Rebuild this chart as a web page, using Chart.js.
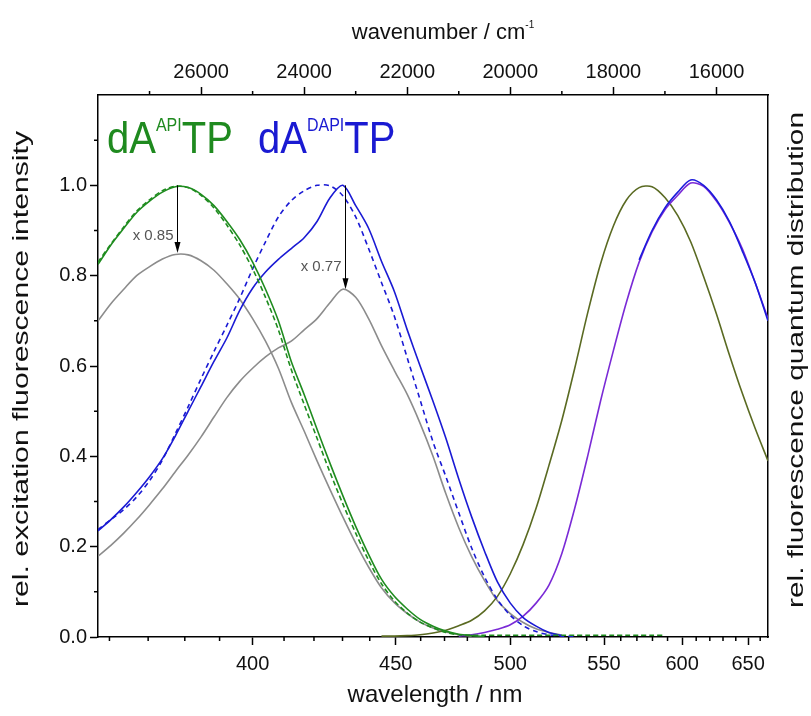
<!DOCTYPE html>
<html>
<head>
<meta charset="utf-8">
<script src="https://cdn.jsdelivr.net/npm/chart.js@4.4.0/dist/chart.umd.min.js"></script>
<style>
  html, body { margin: 0; padding: 0; background: #fff; }
  #wrap { width: 811px; height: 716px; }
</style>
</head>
<body>
<div id="wrap"><canvas id="spectra"></canvas></div>
<script>
// x grid, wavenumber in cm^-1 (the plot is linear in wavenumber)
const wavenumbers = [28000, 27750, 27500, 27250, 27000, 26750, 26500, 26250, 26000, 25750,
    25500, 25250, 25000, 24750, 24500, 24250, 24000, 23750, 23500, 23250,
    23000, 22750, 22500, 22250, 22000, 21750, 21500, 21250, 21000, 20750,
    20500, 20250, 20000, 19750, 19500, 19250, 19000, 18750, 18500, 18250,
    18000, 17750, 17500, 17250, 17000, 16750, 16500, 16250, 16000, 15750,
    15500, 15250, 15000];

// dA(API)TP excitation
const apiExc = [0.825, 0.868, 0.905, 0.94, 0.965, 0.985, 0.997, 0.995, 0.98, 0.955,
    0.92, 0.88, 0.83, 0.77, 0.70, 0.61, 0.537, 0.46, 0.385, 0.313,
    0.245, 0.183, 0.128, 0.09, 0.062, 0.039, 0.024, 0.013, 0.006, 0.003,
    0.001, null, null, null, null, null, null, null, null, null,
    null, null, null, null, null, null, null, null, null, null,
    null, null, null];
const apiExcDashed = [0.83, 0.87, 0.908, 0.943, 0.968, 0.988, 0.998, 0.995, 0.978, 0.95,
    0.912, 0.868, 0.815, 0.752, 0.68, 0.592, 0.515, 0.44, 0.365, 0.295,
    0.23, 0.17, 0.118, 0.08, 0.053, 0.033, 0.02, 0.01, 0.005, 0.004,
    0.004, 0.004, 0.004, 0.004, 0.004, 0.004, 0.004, 0.004, 0.004, 0.004,
    0.004, 0.004, 0.004, 0.004, 0.004, null, null, null, null, null,
    null, null, null];
const apiScaled = [0.70, 0.738, 0.77, 0.80, 0.82, 0.837, 0.847, 0.846, 0.833, 0.812,
    0.782, 0.748, 0.705, 0.655, 0.595, 0.52, 0.456, 0.39, 0.327, 0.266,
    0.208, 0.155, 0.109, 0.076, 0.052, 0.033, 0.02, 0.011, 0.005, 0.002,
    null, null, null, null, null, null, null, null, null, null,
    null, null, null, null, null, null, null, null, null, null,
    null, null, null];

// dA(DAPI)TP excitation
const dapiExc = [0.235, 0.26, 0.288, 0.32, 0.355, 0.395, 0.445, 0.5, 0.555, 0.61,
    0.662, 0.723, 0.772, 0.808, 0.836, 0.86, 0.884, 0.92, 0.972, 1.0,
    0.955, 0.905, 0.832, 0.765, 0.68, 0.60, 0.522, 0.44, 0.35, 0.266,
    0.19, 0.122, 0.075, 0.043, 0.024, 0.01, 0.003, null, null, null,
    null, null, null, null, null, null, null, null, null, null,
    null, null, null];
const dapiExcDashed = [0.238, 0.26, 0.282, 0.31, 0.346, 0.392, 0.45, 0.51, 0.572, 0.632,
    0.69, 0.75, 0.815, 0.875, 0.93, 0.966, 0.988, 1.0, 0.999, 0.977,
    0.93, 0.86, 0.785, 0.71, 0.618, 0.525, 0.432, 0.355, 0.275, 0.197,
    0.133, 0.083, 0.048, 0.025, 0.012, 0.005, 0.002, 0.001, null, null,
    null, null, null, null, null, null, null, null, null, null,
    null, null, null];
const dapiScaled = [0.179, 0.203, 0.23, 0.26, 0.293, 0.328, 0.366, 0.403, 0.443, 0.487,
    0.53, 0.566, 0.595, 0.62, 0.64, 0.655, 0.68, 0.705, 0.74, 0.77,
    0.752, 0.705, 0.645, 0.59, 0.537, 0.473, 0.40, 0.317, 0.242, 0.178,
    0.125, 0.08, 0.052, 0.032, 0.018, 0.01, 0.004, null, null, null,
    null, null, null, null, null, null, null, null, null, null,
    null, null, null];

// fluorescence (right axis)
const apiEm = [null, null, null, null, null, null, null, null, null, null,
    null, null, null, null, null, null, null, null, null, null,
    null, null, 0.002, 0.002, 0.003, 0.005, 0.009, 0.015, 0.025, 0.037,
    0.058, 0.09, 0.14, 0.205, 0.285, 0.38, 0.48, 0.595, 0.717, 0.826,
    0.91, 0.967, 0.995, 0.997, 0.973, 0.933, 0.875, 0.798, 0.715, 0.625,
    0.54, 0.462, 0.39];
const refEm = [null, null, null, null, null, null, null, null, null, null,
    null, null, null, null, null, null, null, null, null, null,
    null, null, null, null, null, null, null, null, 0.002, 0.005,
    0.01, 0.017, 0.027, 0.046, 0.075, 0.115, 0.185, 0.285, 0.40, 0.522,
    0.634, 0.74, 0.83, 0.897, 0.946, 0.978, 1.005, 0.998, 0.965, 0.918,
    0.86, 0.785, 0.705];
const dapiEm = [null, null, null, null, null, null, null, null, null, null,
    null, null, null, null, null, null, null, null, null, null,
    null, null, null, null, null, null, null, null, null, null,
    null, null, null, null, null, null, null, null, null, null,
    null, null, 0.835, 0.9, 0.95, 0.985, 1.012, 1.0, 0.968, 0.92,
    0.855, 0.785, 0.7];

// axis ticks
const wavelengthTicks = [400, 450, 500, 550, 600, 650];
const wavelengthMinor = [360, 370, 380, 390, 410, 420, 430, 440, 460, 470, 480, 490,
    510, 520, 530, 540, 560, 570, 580, 590, 610, 620, 630, 640, 660];
const wavenumberTicks = [16000, 18000, 20000, 22000, 24000, 26000];
const wavenumberMinor = [17000, 19000, 21000, 23000, 25000, 27000];
const intensityTicks = [0, 0.2, 0.4, 0.6, 0.8, 1.0];
const intensityMinor = [0.1, 0.3, 0.5, 0.7, 0.9, 1.1];

// the two scaling arrows
const arrowWavenumbers = [26460, 23200];
const arrowFrom = [1.0, 1.0];
const arrowTo = [0.85, 0.77];
const arrowLabels = ['x 0.85', 'x 0.77'];
const arrowLabelY = [0.88, 0.81];

const FONT = '"Liberation Sans", Arial, sans-serif';

function pts(arr) {
    const out = [];
    arr.forEach((v, i) => { if (v !== null) out.push({ x: wavenumbers[i], y: v }); });
    return out;
}

function line(data, color, axis, dash) {
    return {
        data: pts(data),
        borderColor: color,
        borderWidth: 1.6,
        borderDash: dash || [],
        pointRadius: 0,
        tension: 0.3,
        fill: false,
        yAxisID: axis,
    };
}

// text with superscripts, parts = [[text, isSup], ...]
function supText(ctx, x, y, parts, size, color, opts) {
    opts = opts || {};
    const supSize = opts.sup || Math.round(size * 0.42);
    const sy = opts.sy || 1;
    ctx.save();
    ctx.fillStyle = color;
    ctx.textBaseline = 'alphabetic';
    ctx.textAlign = 'left';
    let w = 0;
    parts.forEach(p => {
        ctx.font = (p[1] ? supSize : size) + 'px ' + FONT;
        w += ctx.measureText(p[0]).width;
    });
    ctx.translate(opts.center ? x - w / 2 : x, y);
    ctx.scale(1, sy);
    let cx = 0;
    parts.forEach(p => {
        ctx.font = (p[1] ? supSize : size) + 'px ' + FONT;
        ctx.fillText(p[0], cx, p[1] ? -size * 0.5 : 0);
        cx += ctx.measureText(p[0]).width;
    });
    ctx.restore();
}

// rotated title stretched to a given length
function sideTitle(ctx, cx, cy, text, size, len) {
    ctx.save();
    ctx.translate(cx, cy);
    ctx.rotate(-Math.PI / 2);
    ctx.font = size + 'px ' + FONT;
    const w = ctx.measureText(text).width;
    ctx.scale(len / w, 1);
    ctx.fillStyle = '#111';
    ctx.textAlign = 'center';
    ctx.textBaseline = 'middle';
    ctx.fillText(text, 0, 0);
    ctx.restore();
}

const overlay = {
    id: 'overlay',
    afterDraw(chart) {
        const ctx = chart.ctx;
        const a = chart.chartArea;
        const x = chart.scales.x;
        const y = chart.scales.y;
        ctx.save();

        // minor ticks
        ctx.strokeStyle = '#000';
        ctx.lineWidth = 1.5;
        ctx.beginPath();
        wavelengthMinor.forEach(l => {
            const px = x.getPixelForValue(1e7 / l);
            ctx.moveTo(px, a.bottom); ctx.lineTo(px, a.bottom + 4);
        });
        wavenumberMinor.forEach(w => {
            const px = x.getPixelForValue(w);
            ctx.moveTo(px, a.top); ctx.lineTo(px, a.top - 4);
        });
        intensityMinor.forEach(v => {
            const py = y.getPixelForValue(v);
            ctx.moveTo(a.left, py); ctx.lineTo(a.left - 4, py);
        });
        ctx.stroke();

        // arrows
        ctx.lineWidth = 1;
        arrowWavenumbers.forEach((w, i) => {
            const px = Math.round(x.getPixelForValue(w)) + 0.5;
            const y0 = y.getPixelForValue(arrowFrom[i]);
            const y1 = y.getPixelForValue(arrowTo[i]);
            ctx.strokeStyle = '#000';
            ctx.beginPath();
            ctx.moveTo(px, y0); ctx.lineTo(px, y1 - 8);
            ctx.stroke();
            ctx.fillStyle = '#000';
            ctx.beginPath();
            ctx.moveTo(px - 3, y1 - 11); ctx.lineTo(px + 3, y1 - 11); ctx.lineTo(px, y1);
            ctx.closePath();
            ctx.fill();
            ctx.font = '15px ' + FONT;
            ctx.fillStyle = '#555';
            ctx.textAlign = 'right';
            ctx.textBaseline = 'alphabetic';
            ctx.fillText(arrowLabels[i], px - 4, y.getPixelForValue(arrowLabelY[i]));
        });

        // compound labels
        supText(ctx, 107, 153, [['dA', false], ['API', true], ['TP', false]], 40, '#1f8a1f', { sup: 16, sy: 1.12 });
        supText(ctx, 258, 153, [['dA', false], ['DAPI', true], ['TP', false]], 40, '#1a1ad2', { sup: 16, sy: 1.12 });

        // axis titles
        supText(ctx, 443, 39, [['wavenumber / cm', false], ['-1', true]], 22, '#111', { sup: 10, center: true });
        ctx.font = '24px ' + FONT;
        ctx.fillStyle = '#111';
        ctx.textAlign = 'center';
        ctx.textBaseline = 'middle';
        ctx.fillText('wavelength / nm', 435, 695);
        sideTitle(ctx, 22, 369, 'rel. excitation fluorescence intensity', 22, 476);
        sideTitle(ctx, 797, 360, 'rel. fluorescence quantum distribution', 22, 496);
        ctx.restore();
    }
};

const tickFont = { family: FONT, size: 20 };
const gridOpts = { drawOnChartArea: false, tickLength: 8, tickWidth: 1.5, tickColor: '#000' };
const borderOpts = { color: '#000', width: 1.5 };

const config = {
    type: 'line',
    data: {
        datasets: [
            line(apiExc, '#1f8c1f', 'y'),
            line(apiExcDashed, '#1f8c1f', 'y', [5, 3]),
            line(dapiExc, '#1a1ad4', 'y'),
            line(dapiExcDashed, '#1a1ad4', 'y', [5, 4]),
            line(dapiEm, '#1c1cdc', 'y2'),
            line(refEm, '#7a2ad6', 'y2'),
            line(apiEm, '#5a6a22', 'y2'),
            line(apiScaled, '#8c8c8c', 'y'),
            line(dapiScaled, '#8c8c8c', 'y'),
        ]
    },
    options: {
        responsive: true,
        maintainAspectRatio: false,
        animation: false,
        layout: { padding: 0 },
        plugins: {
            legend: { display: false },
            tooltip: { enabled: false },
        },
        scales: {
            x: {
                type: 'linear',
                position: 'bottom',
                min: 15000,
                max: 28000,
                reverse: true,
                afterBuildTicks: s => { s.ticks = wavelengthTicks.map(l => ({ value: 1e7 / l })); },
                afterFit: s => { s.height = 79; },
                ticks: {
                    color: '#111', font: tickFont, maxRotation: 0, padding: 7,
                    callback: (v, i) => wavelengthTicks[i]
                },
                grid: gridOpts,
                border: borderOpts,
            },
            x2: {
                type: 'linear',
                position: 'top',
                min: 15000,
                max: 28000,
                reverse: true,
                afterBuildTicks: s => { s.ticks = wavenumberTicks.map(w => ({ value: w })); },
                afterFit: s => { s.height = 95; },
                ticks: { color: '#111', font: tickFont, maxRotation: 0, padding: 3, callback: v => v },
                grid: gridOpts,
                border: borderOpts,
            },
            y: {
                position: 'left',
                min: 0,
                max: 1.2,
                afterBuildTicks: s => { s.ticks = intensityTicks.map(v => ({ value: v })); },
                afterFit: s => { s.width = 98; },
                ticks: { color: '#111', font: tickFont, padding: 3, callback: v => v.toFixed(1) },
                grid: gridOpts,
                border: borderOpts,
            },
            y2: {
                position: 'right',
                min: 0,
                max: 1.2,
                afterFit: s => { s.width = 43; },
                ticks: { display: false },
                grid: { display: false },
                border: borderOpts,
            }
        }
    },
    plugins: [overlay]
};

const chart = new Chart(document.getElementById('spectra'), config);
</script>
</body>
</html>
